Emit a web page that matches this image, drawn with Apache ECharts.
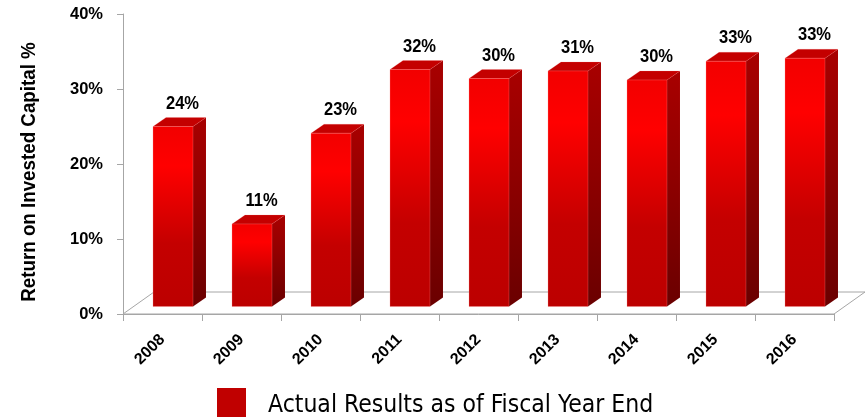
<!DOCTYPE html>
<html><head><meta charset="utf-8">
<script src="https://cdn.jsdelivr.net/npm/echarts@6/dist/echarts.min.js"></script>
<style>html,body{margin:0;padding:0;background:#fff}#c{width:867px;height:417px}</style>
</head><body><div id="c"></div>
<script>
const categories = ['2008','2009','2010','2011','2012','2013','2014','2015','2016'];
const roicValues = [24.0, 11.0, 23.1, 31.6, 30.4, 31.4, 30.2, 32.7, 33.1];
const yTickValues = [0, 10, 20, 30, 40];
const seriesName = 'Actual Results as of Fiscal Year End';
const axisTitle = 'Return on Invested Capital %';

const FONT = '"Liberation Sans", Arial, sans-serif';
const FONT_LEGEND = '"DejaVu Sans Condensed", "Liberation Sans", Arial, sans-serif';
const GRID = {left: 123, right: 33, top: 14, bottom: 103};
const FLOOR_D = [31, -22];
const BAR_OFF = [10.5, -7.5];
const BAR_D = [13, -9];
const BAR_W = 0.506;

function floorRender(params, api) {
  const cs = params.coordSys;
  const L = cs.x, R = cs.x + cs.width, B = cs.y + cs.height;
  return {
    type: 'polygon',
    shape: {points: [[L, B], [R, B], [R + FLOOR_D[0], B + FLOOR_D[1]], [L + FLOOR_D[0], B + FLOOR_D[1]]]},
    style: {fill: '#fff', stroke: '#a6a6a6', lineWidth: 1},
    silent: true
  };
}

function barRender(params, api) {
  const i = api.value(0), v = api.value(1);
  const base = api.coord([i, 0]);
  const top = api.coord([i, v]);
  const band = api.size([1, 0])[0];
  const w = band * BAR_W;
  const x0 = base[0] - w / 2 + BAR_OFF[0], x1 = x0 + w;
  const yb = base[1] + BAR_OFF[1], yt = top[1] + BAR_OFF[1];
  const dx = BAR_D[0], dy = BAR_D[1];
  const front = new echarts.graphic.LinearGradient(0, 0, 0, 1, [
    {offset: 0, color: '#f20000'},
    {offset: 0.22, color: '#ff0000'},
    {offset: 0.45, color: '#e00000'},
    {offset: 0.65, color: '#c40000'},
    {offset: 1, color: '#bc0000'}
  ]);
  const side = new echarts.graphic.LinearGradient(0, 0, 0, 1, [
    {offset: 0, color: '#a80000'},
    {offset: 0.4, color: '#920000'},
    {offset: 1, color: '#6a0000'}
  ]);
  return {
    type: 'group',
    children: [
      {type: 'polygon', shape: {points: [[x1, yt], [x1 + dx, yt + dy], [x1 + dx, yb + dy], [x1, yb]]},
        style: {fill: side}},
      {type: 'polygon', shape: {points: [[x0, yt], [x0 + dx, yt + dy], [x1 + dx, yt + dy], [x1, yt]]},
        style: {fill: '#c40000', stroke: 'rgba(255,120,120,0.35)', lineWidth: 0.5}},
      {type: 'rect', shape: {x: x0, y: yt, width: w, height: yb - yt},
        style: {fill: front, stroke: 'rgba(255,140,140,0.45)', lineWidth: 0.6}},
      {type: 'text', x: (x0 + x1 + dx) / 2 + 3, y: yt + dy - 14, scaleX: 0.87,
        style: {text: Math.round(v) + '%', fontFamily: FONT, fontWeight: 'bold', fontSize: 19,
          fill: '#000', align: 'center', verticalAlign: 'middle'}}
    ]
  };
}

const chart = echarts.init(document.getElementById('c'), null, {renderer: 'canvas'});
chart.setOption({
  animation: false,
  backgroundColor: '#fff',
  grid: GRID,
  legend: {
    data: [{name: seriesName, icon: 'rect'}],
    left: 217, top: 388, padding: 0,
    itemWidth: 29, itemHeight: 29,
    formatter: function (name) { return '{t|' + name + '}'; },
    textStyle: {
      fontFamily: FONT_LEGEND, fontSize: 24.5, color: '#000',
      rich: {t: {fontFamily: FONT_LEGEND, fontSize: 24.5, color: '#000', padding: [7, 0, 0, 17]}}
    },
    selectedMode: false
  },
  graphic: [{
    type: 'text', x: 29.5, y: 172, rotation: Math.PI / 2, scaleX: 0.915,
    style: {text: axisTitle, fontFamily: FONT, fontWeight: 'bold', fontSize: 20.5, fill: '#000',
      align: 'center', verticalAlign: 'middle'}
  }],
  xAxis: {
    type: 'category', data: categories,
    axisLine: {lineStyle: {color: '#a6a6a6', width: 1}},
    axisTick: {show: true, length: 7, lineStyle: {color: '#a6a6a6'}},
    axisLabel: {rotate: 45, margin: 23, fontFamily: FONT, fontWeight: 'bold', fontSize: 16, color: '#000'}
  },
  yAxis: {
    type: 'value', min: yTickValues[0], max: yTickValues[yTickValues.length - 1], interval: 10,
    axisLine: {show: true, lineStyle: {color: '#a6a6a6', width: 1}},
    axisTick: {show: true, length: 6, lineStyle: {color: '#a6a6a6'}},
    splitLine: {show: false},
    axisLabel: {formatter: '{value}%', margin: 20, fontFamily: FONT, fontWeight: 'bold', fontSize: 16.5, color: '#000'}
  },
  series: [
    {type: 'custom', name: 'floor', renderItem: floorRender, data: [[0, 0]], z: 1, silent: true},
    {type: 'custom', name: seriesName, renderItem: barRender, itemStyle: {color: '#c00000'},
      encode: {x: 0, y: 1}, data: roicValues.map((v, i) => [i, v]), z: 2}
  ]
});
</script></body></html>
